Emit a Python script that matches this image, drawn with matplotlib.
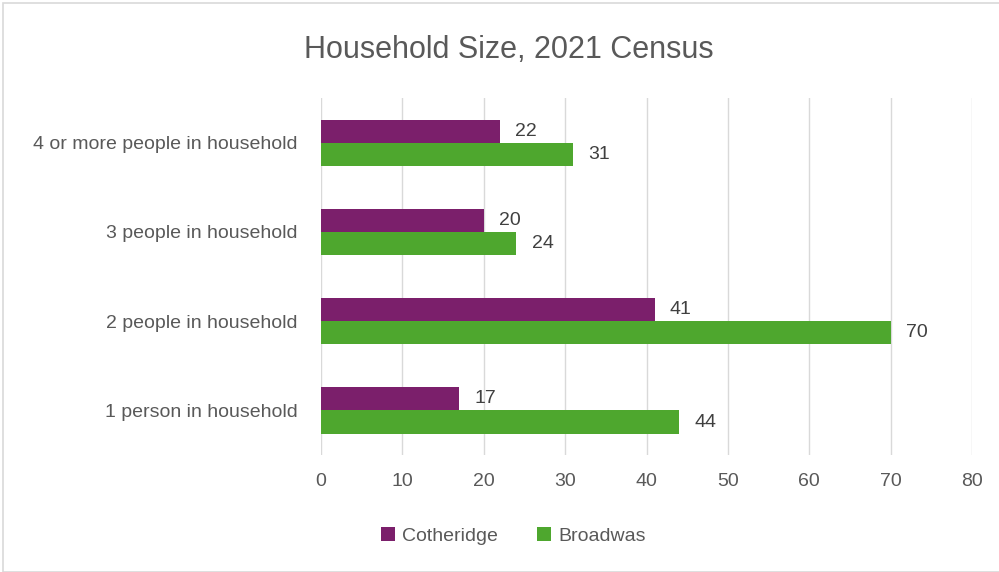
import numpy as np
import matplotlib.pyplot as plt
from matplotlib.patches import Rectangle

categories = ['1 person in household', '2 people in household',
              '3 people in household', '4 or more people in household']
cotheridge = [17, 41, 20, 22]
broadwas = [44, 70, 24, 31]

purple = '#7b1f6b'
green = '#4ea72e'
grey_text = '#595959'

plt.rcParams['font.family'] = ['Liberation Sans', 'DejaVu Sans']

fig = plt.figure(figsize=(9.99, 5.72), dpi=100)
ax = fig.add_axes([0.3213, 0.2045, 0.6517, 0.624])

y = np.arange(len(categories))
h = 0.26
b1 = ax.barh(y + h / 2, cotheridge, height=h, color=purple, label='Cotheridge', zorder=3)
b2 = ax.barh(y - h / 2, broadwas, height=h, color=green, label='Broadwas', zorder=3)

for bars in (b1, b2):
    ax.bar_label(bars, padding=11, fontsize=14, color='#404040')

ax.set_xlim(0, 80)
ax.set_ylim(-0.5, len(categories) - 0.5)
ax.set_xticks(range(0, 81, 10))
ax.set_yticks(y)
ax.set_yticklabels(categories)
ax.tick_params(length=0, labelsize=14, colors=grey_text)
ax.tick_params(axis='x', pad=13)
ax.tick_params(axis='y', pad=17)
ax.grid(axis='x', color='#d9d9d9', linewidth=1, zorder=0)
for s in ax.spines.values():
    s.set_visible(False)

fig.text(0.509, 0.913, 'Household Size, 2021 Census', ha='center', va='center',
         fontsize=22, color=grey_text)

fig.legend(handles=[b1, b2], loc='center', bbox_to_anchor=(0.514, 0.063), ncol=2,
           frameon=False, fontsize=14, labelcolor=grey_text, handlelength=0.7,
           handleheight=0.7, handletextpad=0.4, columnspacing=2.0)

# light border round the chart area
fig.patches.append(Rectangle((0.003, 0.0), 1.2, 0.995, transform=fig.transFigure,
                             fill=False, edgecolor='#d9d9d9', linewidth=1.2))

fig.savefig('out.png', dpi=100)
